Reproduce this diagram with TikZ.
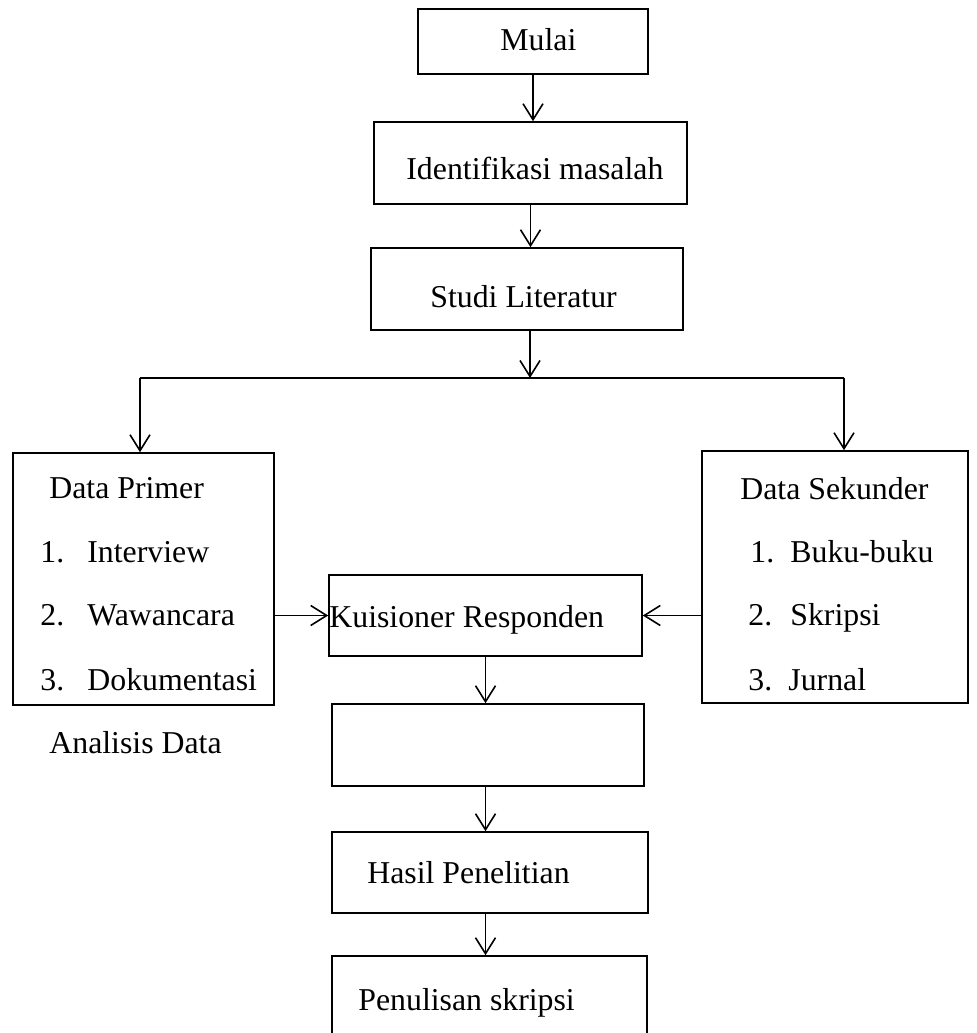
\documentclass[tikz,border=0pt]{standalone}
\usepackage{fontspec}
\setmainfont{Liberation Serif}
\usetikzlibrary{arrows.meta}

\begin{document}
\begin{tikzpicture}[x=0.5pt,y=-0.5pt,
  kotak/.style={draw,line width=0.8pt,inner sep=0pt},
  teks/.style={anchor=base west,inner sep=0pt,font=\fontsize{15.9}{19}\selectfont},
  panah/.style={line width=0.8pt,-{Straight Barb[length=8pt,width=10pt]}},
  garis/.style={line width=0.8pt}]
\useasboundingbox (0,0) rectangle (976,1033);

\node[kotak,minimum width=115pt,minimum height=32.5pt] (mulai) at (533,41.5) {};
\node[kotak,minimum width=156.5pt,minimum height=41pt] (ident) at (530.5,163) {};
\node[kotak,minimum width=156pt,minimum height=41pt] (studi) at (527,289) {};

\node[kotak,minimum width=130.5pt,minimum height=126pt] (primer) at (143.5,579) {};
\node[kotak,minimum width=133pt,minimum height=126pt] (sekunder) at (835,577) {};

\node[kotak,minimum width=156.5pt,minimum height=40.5pt] (kuis) at (485.5,615.5) {};
\node[kotak,minimum width=156pt,minimum height=41pt] (kosong) at (488,745) {};
\node[kotak,minimum width=158pt,minimum height=40.5pt] (hasil) at (490,872.5) {};
\node[kotak,minimum width=157.5pt,minimum height=41pt] (penulisan) at (489.5,997) {};

\node[teks] (tmulai) at (500,50) {Mulai};
\node[teks] (tident) at (406,179) {Identifikasi masalah};
\node[teks] (tstudi) at (430,307) {Studi Literatur};

\node[teks] (tprimer) at (49,498) {Data Primer};
\node[teks] (np1) at (40,562) {1.};
\node[teks] (ip1) at (87,562) {Interview};
\node[teks] (np2) at (40,625) {2.};
\node[teks] (ip2) at (87,625) {Wawancara};
\node[teks] (np3) at (40,690) {3.};
\node[teks] (ip3) at (87,690) {Dokumentasi};
\node[teks] (tanalisis) at (49,753) {Analisis Data};

\node[teks] (tsekunder) at (740,499) {Data Sekunder};
\node[teks] (ns1) at (750,562) {1.};
\node[teks] (is1) at (790,562) {Buku-buku};
\node[teks] (ns2) at (748,625) {2.};
\node[teks] (is2) at (790,625) {Skripsi};
\node[teks] (ns3) at (748,690) {3.};
\node[teks] (is3) at (788,690) {Jurnal};

\node[teks] (tkuis) at (329,627) {Kuisioner Responden};
\node[teks] (thasil) at (367,883) {Hasil Penelitian};
\node[teks] (tpenulisan) at (358,1010) {Penulisan skripsi};

\coordinate (cabang) at (530,378);
\coordinate (kiri) at (140,378);
\coordinate (kanan) at (844,378);

\draw[panah] (mulai.south) -- (mulai.south |- ident.north);
\draw[panah] (ident.south) -- (ident.south |- studi.north);
\draw[panah] (cabang |- studi.south) -- (cabang);
\draw[garis] (kiri) -- (kanan);
\draw[panah] (kiri) -- (kiri |- primer.north);
\draw[panah] (kanan) -- (kanan |- sekunder.north);

\draw[panah] (kuis.west -| primer.east) -- (kuis.west);
\draw[panah] (kuis.east -| sekunder.west) -- (kuis.east);

\draw[panah] (kuis.south) -- (kuis.south |- kosong.north);
\draw[panah] (kuis.south |- kosong.south) -- (kuis.south |- hasil.north);
\draw[panah] (kuis.south |- hasil.south) -- (kuis.south |- penulisan.north);
\end{tikzpicture}
\end{document}
